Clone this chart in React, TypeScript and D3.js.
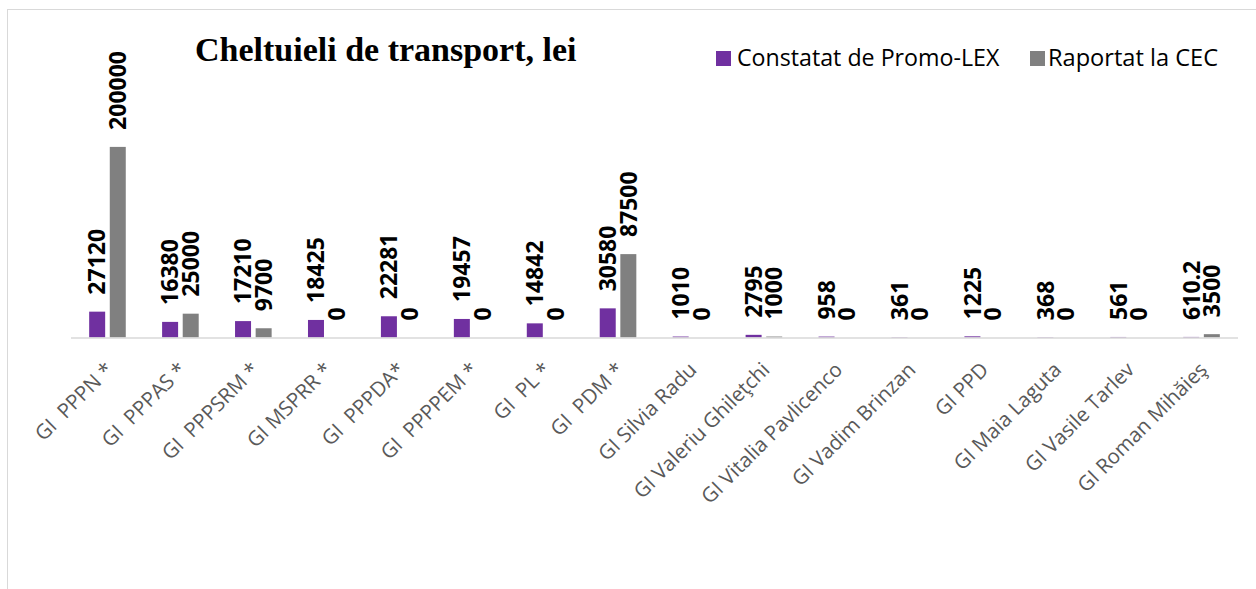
import React from "react";
import * as d3 from "d3";

const categories = [
  "GI  PPPN *",
  "GI  PPPAS *",
  "GI  PPPSRM *",
  "GI MSPRR *",
  "GI  PPPDA*",
  "GI  PPPPEM *",
  "GI  PL *",
  "GI  PDM *",
  "GI Silvia Radu",
  "GI Valeriu Ghileţchi",
  "GI Vitalia Pavlicenco",
  "GI Vadim Brinzan",
  "GI PPD",
  "GI Maia Laguta",
  "GI Vasile Tarlev",
  "GI Roman Mihăieş",
];

const constatat = [27120, 16380, 17210, 18425, 22281, 19457, 14842, 30580, 1010, 2795, 958, 361, 1225, 368, 561, 610.2];
const raportat = [200000, 25000, 9700, 0, 0, 0, 0, 87500, 0, 1000, 0, 0, 0, 0, 0, 3500];

const seriesNames = ["Constatat de Promo-LEX", "Raportat la CEC"];
const seriesColors = ["#7030A0", "#808080"];

const W = 1256;
const H = 589;
const axisY = 337.5;
const plotLeft = 71;
const plotRight = 1238;
const barW = 16;
const barOff = 10.3;

export default function App() {
  const x = d3.scaleBand<string>().domain(categories).range([plotLeft, plotRight]).padding(0);
  const y = d3.scaleLinear().domain([0, 200000]).range([axisY, axisY - 190.6]);
  const series = [constatat, raportat];
  const fmt = (v: number) => String(v);

  return (
    <svg width={W} height={H} style={{ position: "absolute", left: 0, top: 0, background: "#fff" }}>
      <rect x={7.5} y={9.5} width={1400} height={800} fill="#fff" stroke="#D9D9D9" strokeWidth={1} />
      <text x={195} y={61} fontFamily="Liberation Serif" fontWeight="bold" fontSize={34} fill="#000">
        Cheltuieli de transport, lei
      </text>
      {/* legend */}
      <rect x={716} y={51} width={15} height={15} fill={seriesColors[0]} />
      <text x={737} y={66} fontFamily="Open Sans" fontSize={23.2} fill="#000">{seriesNames[0]}</text>
      <rect x={1030} y={51} width={15} height={15} fill={seriesColors[1]} />
      <text x={1048} y={66} fontFamily="Open Sans" fontSize={23.6} fill="#000">{seriesNames[1]}</text>

      {/* bars */}
      {series.map((vals, si) =>
        vals.map((v, i) => {
          const cx = (x(categories[i]) as number) + x.bandwidth() / 2 + (si === 0 ? -barOff : barOff);
          return (
            <rect key={`b${si}-${i}`} x={cx - barW / 2} y={y(v)} width={barW} height={axisY - y(v)} fill={seriesColors[si]} />
          );
        })
      )}
      {/* axis line */}
      <line x1={plotLeft} x2={plotRight} y1={axisY + 0.5} y2={axisY + 0.5} stroke="#D9D9D9" strokeWidth={1.5} />

      {/* value labels */}
      {series.map((vals, si) =>
        vals.map((v, i) => {
          const cx = (x(categories[i]) as number) + x.bandwidth() / 2 + (si === 0 ? -barOff : barOff);
          const ty = y(v) - 17;
          return (
            <text
              key={`l${si}-${i}`}
              transform={`translate(${cx},${ty}) rotate(-90)`}
              dy="0.36em"
              fontFamily="Open Sans"
              fontWeight="bold"
              fontSize={23}
              fill="#000"
            >
              {fmt(v)}
            </text>
          );
        })
      )}

      {/* category labels */}
      {categories.map((c, i) => {
        const cx = (x(c) as number) + x.bandwidth() / 2;
        return (
          <text
            key={`c${i}`}
            transform={`translate(${cx + 7},${371}) rotate(-45)`}
            textAnchor="end"
            fontFamily="Open Sans"
            fontSize={20.5}
            fill="#595959"
            style={{ whiteSpace: "pre" }}
          >
            {c}
          </text>
        );
      })}
    </svg>
  );
}
